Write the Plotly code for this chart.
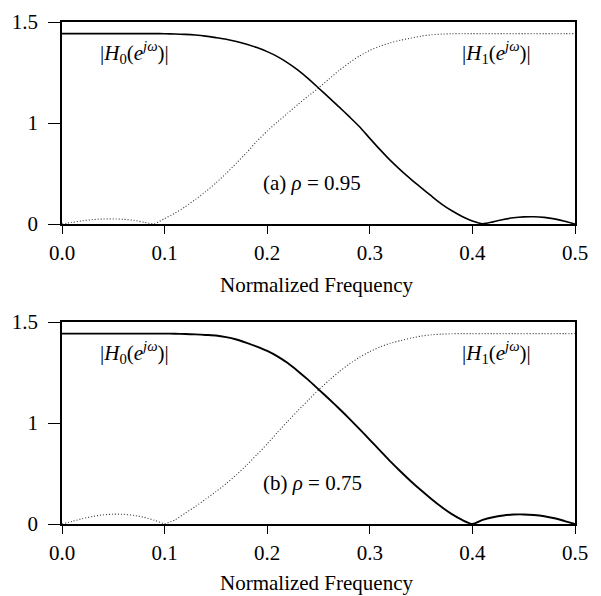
import plotly.graph_objects as go

# ---------------- data ----------------
freq = [round(i * 0.01, 2) for i in range(51)]

# panel (a): rho = 0.95
h0_a = [1.414, 1.414, 1.414, 1.414, 1.414, 1.414, 1.414, 1.414, 1.414, 1.414,
        1.413, 1.411, 1.408, 1.403, 1.395, 1.384, 1.372, 1.355, 1.335, 1.310,
        1.280, 1.243, 1.197, 1.143, 1.080, 1.010, 0.940, 0.870, 0.797, 0.722,
        0.636, 0.552, 0.472, 0.400, 0.333, 0.270, 0.208, 0.148, 0.098, 0.056,
        0.022, 0.002, 0.016, 0.033, 0.046, 0.053, 0.054, 0.049, 0.038, 0.021,
        0.000]
h1_a = [0.000, 0.012, 0.024, 0.033, 0.037, 0.038, 0.035, 0.027, 0.013, 0.002,
        0.040, 0.080, 0.128, 0.182, 0.240, 0.305, 0.375, 0.452, 0.530, 0.615,
        0.690, 0.758, 0.823, 0.888, 0.950, 1.010, 1.075, 1.140, 1.197, 1.248,
        1.290, 1.320, 1.345, 1.365, 1.380, 1.395, 1.405, 1.410, 1.413, 1.414,
        1.414, 1.414, 1.414, 1.414, 1.414, 1.414, 1.414, 1.414, 1.414, 1.414,
        1.414]

# panel (b): rho = 0.75
h0_b = [1.414, 1.414, 1.414, 1.414, 1.414, 1.414, 1.414, 1.414, 1.414, 1.414,
        1.414, 1.413, 1.411, 1.408, 1.404, 1.400, 1.388, 1.370, 1.345, 1.317,
        1.285, 1.245, 1.195, 1.135, 1.070, 1.000, 0.930, 0.858, 0.783, 0.705,
        0.625, 0.545, 0.465, 0.390, 0.318, 0.250, 0.186, 0.126, 0.073, 0.030,
        0.000, 0.030, 0.050, 0.063, 0.070, 0.071, 0.067, 0.058, 0.043, 0.022,
        0.000]
h1_b = [0.000, 0.020, 0.040, 0.056, 0.068, 0.073, 0.072, 0.064, 0.050, 0.028,
        0.003, 0.030, 0.080, 0.130, 0.185, 0.240, 0.300, 0.365, 0.438, 0.515,
        0.595, 0.680, 0.762, 0.842, 0.920, 0.995, 1.065, 1.130, 1.188, 1.238,
        1.280, 1.315, 1.342, 1.362, 1.380, 1.395, 1.405, 1.410, 1.413, 1.414,
        1.414, 1.414, 1.414, 1.414, 1.414, 1.414, 1.414, 1.414, 1.414, 1.414,
        1.414]

x_tickvals = [0.0, 0.1, 0.2, 0.3, 0.4, 0.5]
x_ticktext = ["0.0", "0.1", "0.2", "0.3", "0.4", "0.5"]
y_tickvals = [0.0, 0.75, 1.5]
y_ticktext = ["0", "1", "1.5"]

panel_labels = ["(a) <i>ρ</i> = 0.95", "(b) <i>ρ</i> = 0.75"]
h0_label = "|<i>H</i><sub>0</sub>(<i>e</i><sup><i>jω</i></sup>)|"
h1_label = "|<i>H</i><sub>1</sub>(<i>e</i><sup><i>jω</i></sup>)|"
x_title = "Normalized Frequency"

# ---------------- figure ----------------
OFF = 8                      # default page body margin
W, H = 601 - OFF, 596 - OFF  # figure size so it fills the window
FONT = "Liberation Serif"


def px_x(p):  # page pixel -> paper fraction
    return (p - OFF) / W


def px_y(p):
    return 1 - (p - OFF) / H


fig = go.Figure()

panels = [("x", "y", h0_a, h1_a), ("x2", "y2", h0_b, h1_b)]
for i, (xa, ya, h0, h1) in enumerate(panels):
    fig.add_trace(go.Scatter(x=freq, y=h1, xaxis=xa, yaxis=ya, mode="lines",
                             line=dict(color="#333", width=1.1, dash="1px,2px", shape="spline",
                                       smoothing=0.6),
                             showlegend=False, hoverinfo="skip"))
    fig.add_trace(go.Scatter(x=freq, y=h0, xaxis=xa, yaxis=ya, mode="lines",
                             line=dict(color="black", width=1.6 if i == 0 else 1.9,
                                       shape="spline", smoothing=0.6),
                             showlegend=False, hoverinfo="skip"))

x_dom = [px_x(62), px_x(575)]
y_doms = [[px_y(224), px_y(22)], [px_y(524), px_y(322)]]

axis_common = dict(showgrid=False, zeroline=False, showline=True, linecolor="black",
                   linewidth=1.5, mirror=True, ticks="outside", tickcolor="black",
                   tickwidth=1.2, automargin=False,
                   tickfont=dict(family=FONT, size=21, color="black"))

xa_names = ["xaxis", "xaxis2"]
ya_names = ["yaxis", "yaxis2"]
for i in range(2):
    fig.layout[xa_names[i]] = dict(axis_common, domain=x_dom, range=[0, 0.5],
                                   anchor="y" if i == 0 else "y2",
                                   tickvals=x_tickvals, ticktext=x_ticktext,
                                   ticklen=8, ticklabelstandoff=1)
    fig.layout[ya_names[i]] = dict(axis_common, domain=y_doms[i], range=[0, 1.5],
                                   anchor="x" if i == 0 else "x2",
                                   tickvals=y_tickvals, ticktext=y_ticktext,
                                   ticklen=12, ticklabelstandoff=6)

annos = []
for i in range(2):
    xr = "x" if i == 0 else "x2"
    yr = "y" if i == 0 else "y2"
    annos.append(dict(x=0.0702, y=1.277, xref=xr, yref=yr, text=h0_label,
                      showarrow=False, font=dict(family=FONT, size=21, color="black")))
    annos.append(dict(x=0.423, y=1.277, xref=xr, yref=yr, text=h1_label,
                      showarrow=False, font=dict(family=FONT, size=21, color="black")))
    annos.append(dict(x=0.2437, y=0.304, xref=xr, yref=yr, text=panel_labels[i],
                      showarrow=False, font=dict(family=FONT, size=21, color="black")))
# x-axis titles below each panel
annos.append(dict(x=px_x(317.5), y=px_y(285), xref="paper", yref="paper",
                  text=x_title, showarrow=False,
                  font=dict(family=FONT, size=21, color="black")))
annos.append(dict(x=px_x(317.5), y=0, xref="paper", yref="paper", yanchor="bottom",
                  text=x_title, showarrow=False, borderpad=0,
                  font=dict(family=FONT, size=21, color="black")))

fig.update_layout(width=W, height=H, autosize=False,
                  margin=dict(l=0, r=0, t=0, b=0, autoexpand=False),
                  paper_bgcolor="white", plot_bgcolor="white",
                  annotations=annos)

fig.write_html("out.html")
